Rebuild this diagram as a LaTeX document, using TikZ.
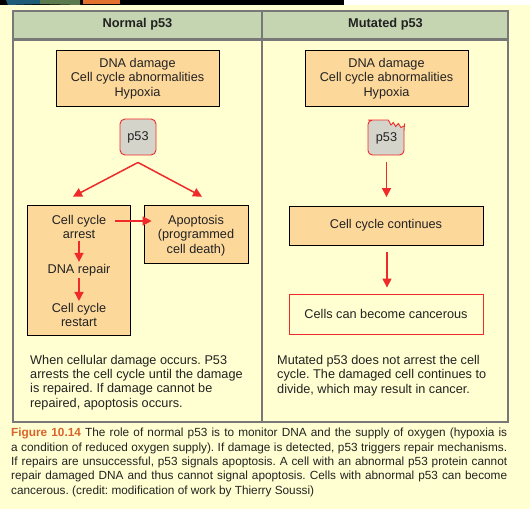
\documentclass[tikz,border=0pt]{standalone}
\usepackage{fontspec}
\setmainfont{Liberation Sans}
\usetikzlibrary{arrows.meta,calc}
\definecolor{bgyellow}{HTML}{FFFFD1}
\definecolor{boxorange}{HTML}{FDD89B}
\definecolor{headgreen}{HTML}{C6D5B1}
\definecolor{tablegray}{HTML}{787878}
\definecolor{pgray}{HTML}{D4D4CB}
\definecolor{arrowred}{HTML}{EE2A2A}
\definecolor{capor}{HTML}{D9642B}
\definecolor{txt}{HTML}{222222}
\definecolor{blobblue}{HTML}{1D5B78}
\definecolor{blobgreen}{HTML}{5C7B4C}
\definecolor{blobor}{HTML}{E2702E}
\frenchspacing
\tikzset{
  every node/.style={text=txt, font=\fontsize{12.7}{14.4}\selectfont},
  obox/.style={draw=black, line width=0.9pt, fill=boxorange, align=center, inner sep=0pt},
  pbox/.style={draw=arrowred, line width=0.9pt, fill=pgray, rounded corners=5pt, minimum width=36pt, minimum height=36pt, inner sep=0pt},
  rbox/.style={draw=arrowred, line width=0.9pt, align=center, inner sep=0pt},
  plain/.style={align=center, inner sep=1pt},
  redarrow/.style={draw=arrowred, line width=1.5pt, -{Triangle[length=9pt,width=9pt]}},
  tline/.style={draw=tablegray, line width=2.6pt},
  head/.style={font=\bfseries\fontsize{12.8}{14.4}\selectfont},
}
\begin{document}
\begin{tikzpicture}[x=1pt,y=-1pt]
\useasboundingbox (0,0) rectangle (530,509);
\fill[bgyellow] (0,0) rectangle (530,509);
\fill[black] (0,0) rectangle (344,5);
\fill[white] (344,0) rectangle (530,5);
\fill[blobblue] (6,0) -- (40,0) -- (40,4) -- (8,5) -- cycle;
\fill[blobgreen] (40,0) -- (80,0) -- (80,5) -- (40,4) -- cycle;
\fill[blobor] (83,0) -- (120,0) -- (120,3.5) -- (83,3.5) -- cycle;
% table
\fill[headgreen] (13,11) rectangle (508,39.5);
\draw[tline] (13,39.5) -- (508,39.5);
\draw[tline] (262,11) -- (262,422);
\draw[tline] (13,11) rectangle (508,422);
\node[head] (hL) at (137.5,24.5) {Normal p53};
\node[head] (hR) at (385.5,24.5) {Mutated p53};
% left panel
\node[obox, minimum width=163pt, minimum height=56pt] (dnaL) at (137.5,78.5) {DNA damage\\Cell cycle abnormalities\\Hypoxia};
\node[pbox] (p53L) at (138,137) {p53};
\node[obox, minimum width=103pt, minimum height=130pt] (arrest) at (78.5,270) {};
\node[obox, minimum width=104pt, minimum height=58pt] (apop) at (196,234) {};
\node[plain] (arrestT) at (79,227) {Cell cycle\\arrest};
\node[plain] (repairT) at (79,270) {DNA repair};
\node[plain] (restartT) at (79,315) {Cell cycle\\restart};
\node[plain] (apopT) at (196,235.5) {Apoptosis\\(programmed\\cell death)};
\draw[redarrow] ($(p53L.south)+(0,7)$) -- ($(arrest.north)+(-5.5,-8)$);
\draw[redarrow] ($(p53L.south)+(0,7)$) -- ($(apop.north)+(6,-8)$);
\draw[redarrow] ($(arrestT.east)+(8,-6)$) -- ($(apopT.west)+(-5,-14.5)$);
\draw[redarrow] ($(arrestT.south)+(0,1)$) -- ($(repairT.north)+(0,-1)$);
\draw[redarrow] ($(repairT.south)+(0,1)$) -- ($(restartT.north)+(0,-1)$);
% right panel
\node[obox, minimum width=163pt, minimum height=56pt] (dnaR) at (386.5,78.5) {DNA damage\\Cell cycle abnormalities\\Hypoxia};
\node[inner sep=0pt, minimum width=36pt, minimum height=35pt] (p53R) at (386,137.5) {};
\draw[draw=arrowred, line width=0.9pt, fill=pgray, rounded corners=4.5pt]
  (388.3,120) -- (372.5,120) -- (368,120) -- (368,155) -- (404,155) -- (404,128) [sharp corners] -- (404.3,126) -- (401,127.5) -- (398.3,123.5) -- (395.7,126.5) -- (393.3,122.5) -- (391,125) -- (388.3,120);
\node (p53Rt) at (386.5,138.5) {p53};
\node[obox, minimum width=194pt, minimum height=39pt] (cont) at (386,225.5) {Cell cycle continues};
\node[rbox, minimum width=194pt, minimum height=40pt] (cancer) at (386,314) {Cells can become cancerous};
\draw[redarrow] ($(p53R.south)+(0.5,7)$) -- ($(cont.north)+(0.5,-8.5)$);
\draw[redarrow] ($(cont.south)+(1,7)$) -- ($(cancer.north)+(1,-6)$);
% texts
\node[anchor=west, align=left, inner sep=0pt] (txtL) at (30,382.5) {When cellular damage occurs. P53\\arrests the cell cycle until the damage\\is repaired. If damage cannot be\\repaired, apoptosis occurs.};
\node[anchor=west, align=left, inner sep=0pt] (txtR) at (277,375.5) {Mutated p53 does not arrest the cell\\cycle. The damaged cell continues to\\divide, which may result in cancer.};
\node[anchor=west, inner sep=0pt, text width=496pt, align=justify, font=\fontsize{11.8}{14.3}\selectfont] (cap) at (11,462.5) {{\color{capor}\bfseries Figure 10.14} The role of normal p53 is to monitor DNA and the supply of oxygen (hypoxia is\linebreak a condition of reduced oxygen supply). If damage is detected, p53 triggers repair mechanisms.\linebreak If repairs are unsuccessful, p53 signals apoptosis. A cell with an abnormal p53 protein cannot\linebreak repair damaged DNA and thus cannot signal apoptosis. Cells with abnormal p53 can become\linebreak cancerous. (credit: modification of work by Thierry Soussi)};
\end{tikzpicture}
\end{document}
